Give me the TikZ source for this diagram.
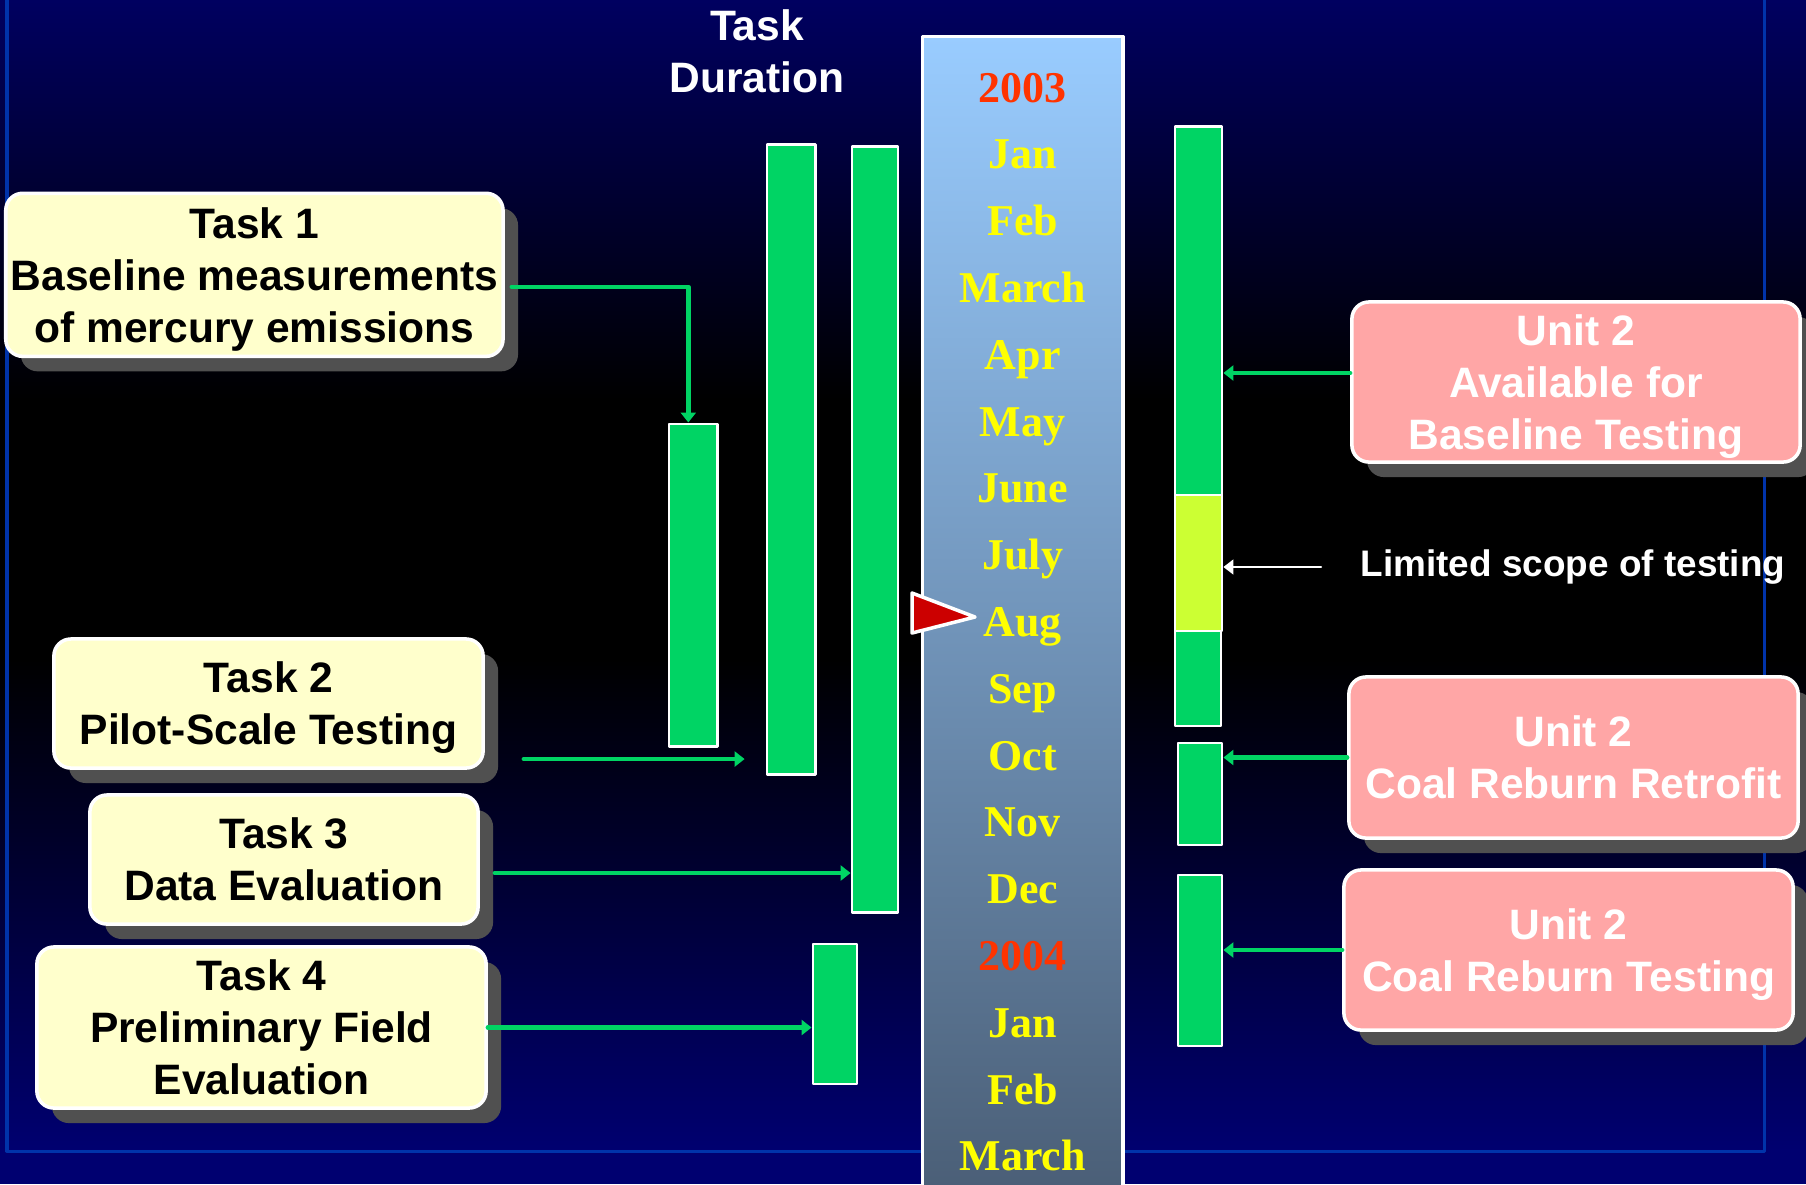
\documentclass[tikz,border=0pt]{standalone}
\usepackage{fontspec}
\setmainfont{Liberation Sans}
\newfontfamily\monthfont{Liberation Serif}
\usetikzlibrary{arrows.meta,shadows}

\definecolor{navytop}{RGB}{0,0,96}
\definecolor{navylow}{RGB}{0,0,112}
\definecolor{framebl}{RGB}{0,51,170}
\definecolor{bargreen}{RGB}{0,212,100}
\definecolor{limgreen}{RGB}{204,255,51}
\definecolor{taskyel}{RGB}{255,255,204}
\definecolor{unitpink}{RGB}{255,166,166}
\definecolor{shadowgray}{RGB}{80,80,80}
\definecolor{skytop}{RGB}{153,204,255}
\definecolor{skybot}{RGB}{74,94,118}
\definecolor{yearred}{RGB}{255,51,0}
\definecolor{monthyel}{RGB}{255,255,0}
\definecolor{pointred}{RGB}{204,0,0}

\tikzset{
  roundbox/.style={draw=white,line width=1pt,rounded corners=0.17cm,align=center,inner sep=0pt,
    font=\bfseries\fontsize{12.1}{14.8}\selectfont,text depth=0pt,
    drop shadow={shadow xshift=0.15cm,shadow yshift=-0.15cm,fill=shadowgray,opacity=1}},
  taskbox/.style={roundbox,fill=taskyel,text=black},
  unitbox/.style={roundbox,fill=unitpink,text=white},
  durbar/.style={draw=white,line width=0.8pt,fill=bargreen,inner sep=0pt},
  month/.style={font=\monthfont\bfseries\fontsize{12.5}{14}\selectfont,text height=8.3pt,text depth=0pt,inner sep=0pt},
  grn/.style={->,color=bargreen,line width=1.3pt}
}

\begin{document}
\begin{tikzpicture}[line cap=round,line join=round,>={Triangle[length=0.1cm,width=0.15cm]},x=0.01cm,y=-0.01cm]
    \useasboundingbox (0,0) rectangle (1806,1184);
    \clip (0,0) rectangle (1806,1184);
    \fill[navylow] (0,0) rectangle (1806,1184);
    \shade[top color=navytop,bottom color=black] (0,0) rectangle (1806,400);
    \fill[black] (0,399) rectangle (1806,660);
    \shade[top color=black,bottom color=navylow] (0,659) rectangle (1806,1151);
    \draw[color=framebl,line width=0.03cm] (7,-20) rectangle (1764,1151);

    \node[text=white,font=\bfseries\fontsize{12.1}{14.8}\selectfont,align=center] (title) at (757,51) {Task\\Duration};

    \node[draw=white,line width=1pt,top color=skytop,bottom color=skybot,minimum width=2cm,minimum height=11.6cm,inner sep=0pt] (tl) at (1022.7,616.9) {};
    \foreach \m/\c [count=\k from 0] in {2003/yearred,Jan/monthyel,Feb/monthyel,March/monthyel,Apr/monthyel,May/monthyel,June/monthyel,July/monthyel,Aug/monthyel,Sep/monthyel,Oct/monthyel,Nov/monthyel,Dec/monthyel,2004/yearred,Jan/monthyel,Feb/monthyel,March/monthyel}
    \node[month,text=\c] (mon\k) at (1022.7,{87.5+66.8*\k}) {\m};
    \draw[fill=pointred,draw=white,line width=1pt] (912,593) -- (975,617) -- (912,633) -- cycle;

    \node[durbar,minimum width=0.486cm,minimum height=3.22cm] (b1) at (693.3,585) {};
    \node[durbar,minimum width=0.485cm,minimum height=6.29cm] (b2) at (791.3,459.5) {};
    \node[durbar,minimum width=0.46cm,minimum height=7.65cm] (b3) at (875,529.5) {};
    \node[durbar,minimum width=0.44cm,minimum height=1.40cm] (b4) at (835,1014) {};
    \node[durbar,minimum width=0.47cm,minimum height=3.68cm] (r1) at (1198.5,311) {};
    \node[durbar,fill=limgreen,minimum width=0.47cm,minimum height=1.36cm] (rl) at (1198.5,563) {};
    \node[durbar,minimum width=0.46cm,minimum height=0.95cm] (r2) at (1198,678.5) {};
    \node[durbar,minimum width=0.44cm,minimum height=1.02cm] (r3) at (1200,794) {};
    \node[durbar,minimum width=0.44cm,minimum height=1.71cm] (r4) at (1200,960.5) {};

    \node[taskbox,minimum width=4.97cm,minimum height=1.63cm] (t1) at (254.4,274.8) {Task 1\\Baseline measurements\\of mercury emissions};
    \node[taskbox,minimum width=4.29cm,minimum height=1.29cm] (t2) at (268.5,703.5) {Task 2\\Pilot-Scale Testing};
    \node[taskbox,minimum width=3.88cm,minimum height=1.29cm] (t3) at (284,859.5) {Task 3\\Data Evaluation};
    \node[taskbox,minimum width=4.49cm,minimum height=1.61cm] (t4) at (261.5,1027.5) {Task 4\\Preliminary Field\\Evaluation};
    \node[unitbox,minimum width=4.48cm,minimum height=1.60cm] (u1) at (1576,382) {Unit 2\\Available for\\Baseline Testing};
    \node[unitbox,minimum width=4.49cm,minimum height=1.61cm] (u2) at (1573.5,757.5) {Unit 2\\Coal Reburn Retrofit};
    \node[unitbox,minimum width=4.49cm,minimum height=1.60cm] (u3) at (1568.5,950) {Unit 2\\Coal Reburn Testing};
    \node[text=white,font=\bfseries\fontsize{10.5}{12}\selectfont] (lim) at (1573,567) {Limited scope of testing};

    \coordinate (a2) at ([xshift=0.39cm,yshift=-0.555cm]t2.east);
    \coordinate (a3) at ([xshift=0.15cm,yshift=-0.135cm]t3.east);
    \coordinate (a5) at ([yshift=0.09cm]u1.west);
    \coordinate (a6) at ([xshift=-0.27cm]lim.west);
    \draw[grn] ([xshift=0.07cm,yshift=-0.12cm]t1.east) -| ([xshift=-0.05cm]b1.north);
    \draw[grn,shorten >=0.21cm] (a2) -- (a2 -| b2.west);
    \draw[grn] (a3) -- (a3 -| b3.west);
    \draw[grn] (t4.east) -- (t4.east -| b4.west);
    \draw[grn] (a5) -- (a5 -| r1.east);
    \draw[->,color=white,line width=0.5pt] (a6) -- (a6 -| rl.east);
    \draw[grn] (u2.west) -- (u2.west -| r3.east);
    \draw[grn] (u3.west) -- (u3.west -| r4.east);
\end{tikzpicture}
\end{document}
